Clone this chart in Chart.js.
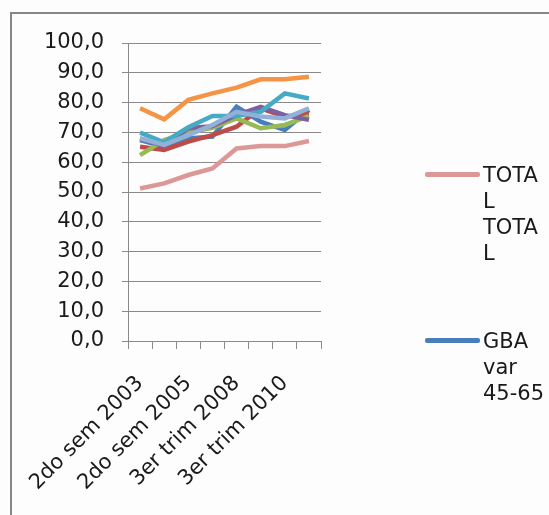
<!DOCTYPE html>
<html>
<head>
<meta charset="utf-8">
<script src="https://cdn.jsdelivr.net/npm/chart.js@4.4.1/dist/chart.umd.min.js"></script>
<style>
  html, body { margin: 0; padding: 0; background: #fff; }
  #wrap { position: relative; width: 549px; height: 515px; overflow: hidden; background: #fdfdfd; }
  #frame { position: absolute; left: 10px; top: 12px; right: -10px; bottom: -10px;
           border-top: 2px solid #878787; border-left: 2px solid #878787; }
  canvas { position: absolute; left: 0; top: 0; }
  .leg { position: absolute; font-family: "DejaVu Sans", sans-serif; font-size: 21px;
         line-height: 26px; color: #1a1a1a; }
  .sw { position: absolute; width: 55px; height: 5px; border-radius: 2px; }
</style>
</head>
<body>
<div id="wrap">
  <canvas id="c" width="549" height="515"></canvas>
  <div id="frame"></div>
  <div id="legend"></div>
</div>
<script>
// Periods on the x axis (every other one is labelled)
const categories = [
  "2do sem 2003", "2do sem 2004", "2do sem 2005", "2do sem 2006",
  "3er trim 2008", "3er trim 2009", "3er trim 2010", "3er trim 2011"
];

// Series values (%)
const totalTotal = [51.2, 52.9, 55.7, 57.9, 64.6, 65.4, 65.4, 67.1];
const gbaVar4565 = [67.4, 65.2, 68.0, 68.6, 78.6, 73.6, 70.8, 77.5];
const serie3     = [65.2, 64.1, 66.9, 69.1, 71.9, 78.1, 75.3, 76.4];
const serie4     = [62.4, 67.4, 70.0, 71.5, 74.7, 71.4, 72.5, 75.5];
const serie5     = [68.0, 65.4, 71.4, 72.1, 75.8, 78.6, 75.8, 74.2];
const serie6     = [69.9, 66.7, 71.7, 75.5, 75.5, 76.9, 83.1, 81.4];
const serie7     = [78.1, 74.4, 80.9, 83.1, 85.0, 87.8, 87.8, 88.7];
const serie8     = [68.0, 65.8, 69.1, 72.5, 76.9, 75.3, 74.7, 78.1];

// Y axis tick values
const yTicks = [0, 10, 20, 30, 40, 50, 60, 70, 80, 90, 100];

const seriesNames = ["TOTAL TOTAL", "GBA var 45-65", "Serie 3", "Serie 4",
                     "Serie 5", "Serie 6", "Serie 7", "Serie 8"];
const seriesData = [totalTotal, gbaVar4565, serie3, serie4, serie5, serie6, serie7, serie8];
const seriesColors = ["#dc9896", "#4a7ebb", "#be4b48", "#98b954", "#7d60a0",
                      "#46aac5", "#f59445", "#93b1d8"];

// Legend lines as they wrap in the narrow legend column
const legendLines = [["TOTA", "L", "TOTA", "L"], ["GBA", "var", "45-65"]];

const gridColor = "#8a8a8a";
const fontFamily = '"DejaVu Sans", sans-serif';

const datasets = seriesData.map((d, i) => ({
  label: seriesNames[i],
  data: d,
  borderColor: seriesColors[i],
  backgroundColor: seriesColors[i],
  borderWidth: 4.5,
  pointRadius: 0,
  tension: 0,
  fill: false,
  order: seriesData.length - i
}));

new Chart(document.getElementById("c"), {
  type: "line",
  data: { labels: categories, datasets },
  options: {
    responsive: false,
    animation: false,
    layout: { padding: { top: 43, right: 228, left: 0, bottom: 0 } },
    plugins: { legend: { display: false }, tooltip: { enabled: false } },
    scales: {
      x: {
        offset: true,
        grid: { offset: true, drawOnChartArea: false, color: gridColor, tickLength: 8, lineWidth: 1 },
        border: { color: gridColor, width: 1 },
        ticks: {
          autoSkip: false,
          minRotation: 45, maxRotation: 45,
          color: "#1a1a1a",
          font: { family: fontFamily, size: 21 },
          padding: 22,
          callback: (v, i) => (i % 2 === 0 ? categories[i] : "")
        },
        afterFit: s => { s.height = 174; }
      },
      y: {
        min: yTicks[0], max: yTicks[yTicks.length - 1],
        afterBuildTicks: s => { s.ticks = yTicks.map(v => ({ value: v })); },
        grid: { color: gridColor, tickLength: 6, lineWidth: 1 },
        border: { color: gridColor, width: 1 },
        ticks: {
          color: "#1a1a1a",
          font: { family: fontFamily, size: 21 },
          padding: 18,
          callback: v => v.toFixed(1).replace(".", ",")
        },
        afterFit: s => { s.width = 128; }
      }
    }
  }
});

// Side legend: only the first two entries fit in the column
const legend = document.getElementById("legend");
const legendTops = [162, 328];
legendLines.forEach((lines, i) => {
  const sw = document.createElement("div");
  sw.className = "sw";
  sw.style.left = "425px";
  sw.style.top = (legendTops[i] + 10) + "px";
  sw.style.background = seriesColors[i];
  legend.appendChild(sw);
  const t = document.createElement("div");
  t.className = "leg";
  t.style.left = "483px";
  t.style.top = legendTops[i] + "px";
  t.innerHTML = lines.join("<br>");
  legend.appendChild(t);
});
</script>
</body>
</html>
